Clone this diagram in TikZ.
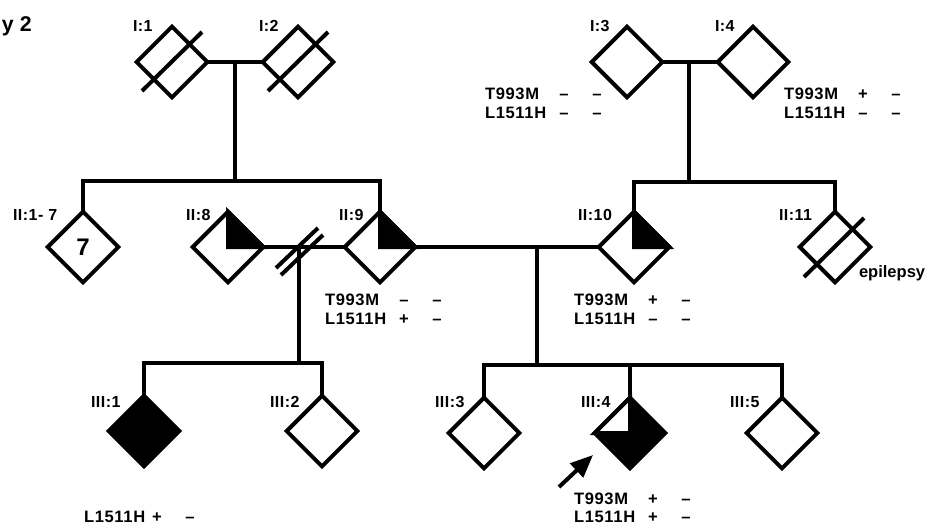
\documentclass[tikz,border=0pt]{standalone}
\usepackage{fontspec}
\setmainfont{Liberation Sans}
\newfontfamily\gtfont[LetterSpace=4]{Liberation Sans}
\newfontfamily\labfont[LetterSpace=3]{Liberation Sans}
\usetikzlibrary{arrows.meta,calc,shapes.geometric}
\newcommand\genoRow[6]{% prefix, x, y, text, s1, s2
  \node[gt] (#1l) at (#2,#3) {#4};
  \node[sg] (#1a) at (#2+81,#3) {#5};
  \node[sg] (#1b) at (#2+114,#3) {#6};
}
\begin{document}
\begin{tikzpicture}[x=0.75pt,y=-0.75pt,
  line width=3pt,
  ped/.style={shape=diamond, draw, inner sep=0pt, outer sep=0pt,
    minimum width=53pt, minimum height=53pt},
  lab/.style={anchor=base west, inner sep=0pt, font=\labfont\bfseries\fontsize{12}{13}\selectfont},
  gt/.style={anchor=base west, inner sep=0pt, font=\gtfont\bfseries\fontsize{12.4}{13}\selectfont},
  sg/.style={anchor=base, inner sep=0pt, font=\bfseries\fontsize{12.4}{13}\selectfont},
  strike/.style={line width=3pt},
  half/.style={fill=black, draw=black},
]
\useasboundingbox (0,0) rectangle (928,525);

\node[anchor=base west, inner sep=0pt, font=\bfseries\fontsize{16}{18}\selectfont] (title) at (0,31) {y 2};

% Generation I
\node[ped] (I1) at (172,62) {};
\node[ped] (I2) at (298,62) {};
\node[ped] (I3) at (627,62) {};
\node[ped] (I4) at (753,62) {};
\draw[strike] ($(I1.center)+(-30,29)$) -- ($(I1.center)+(30,-30)$);
\draw[strike] ($(I2.center)+(-30,29)$) -- ($(I2.center)+(30,-30)$);

\node[lab] (lI1) at (131,31) {I:1};
\node[lab] (lI2) at (257,31) {I:2};
\node[lab] (lI3) at (588,31) {I:3};
\node[lab] (lI4) at (713,31) {I:4};

\genoRow{gIIIa}{483}{99}{T993M}{–}{–}
\genoRow{gIIIb}{483}{118}{L1511H}{–}{–}
\genoRow{gIVa}{782}{99}{T993M}{+}{–}
\genoRow{gIVb}{782}{118}{L1511H}{–}{–}

% Generation II
\node[ped, font=\bfseries\fontsize{18}{20}\selectfont] (II17) at (83,247) {7};
\node[ped] (II8) at (228,247) {};
\node[ped] (II9) at (380,247) {};
\node[ped] (II10) at (634,247) {};
\node[ped] (II11) at (835,247) {};
\filldraw[half] (II8.north) -- (II8.center) -- (II8.east) -- cycle;
\filldraw[half] (II9.north) -- (II9.center) -- (II9.east) -- cycle;
\filldraw[half] (II10.north) -- (II10.center) -- (II10.east) -- cycle;
\draw[strike] ($(II11.center)+(-31,30)$) -- ($(II11.center)+(29,-29)$);

\node[lab] (lII17) at (11,220) {II:1- 7};
\node[lab] (lII8) at (184,220) {II:8};
\node[lab] (lII9) at (337,220) {II:9};
\node[lab] (lII10) at (576,220) {II:10};
\node[lab] (lII11) at (777,220) {II:11};
\node[anchor=base west, inner sep=0pt, font=\bfseries\fontsize{12.4}{13}\selectfont] (epi) at (857,277) {epilepsy};

\genoRow{gIXa}{323}{305}{T993M}{–}{–}
\genoRow{gIXb}{323}{324}{L1511H}{+}{–}
\genoRow{gXa}{572}{305}{T993M}{+}{–}
\genoRow{gXb}{572}{324}{L1511H}{–}{–}

% Generation III
\node[ped, fill=black] (III1) at (144,431) {};
\node[ped] (III2) at (322,431) {};
\node[ped] (III3) at (484,433) {};
\node[ped, fill=black] (III4) at (630,433) {};
\node[ped] (III5) at (782,433) {};
\filldraw[fill=white, draw=black] (III4.west) -- (III4.center) -- (III4.north) -- cycle;

\node[lab] (lIII1) at (89,407) {III:1};
\node[lab] (lIII2) at (268,407) {III:2};
\node[lab] (lIII3) at (433,407) {III:3};
\node[lab] (lIII4) at (579,407) {III:4};
\node[lab] (lIII5) at (728,407) {III:5};

\genoRow{gIVa4}{572}{504}{T993M}{+}{–}
\genoRow{gIVb4}{572}{522}{L1511H}{+}{–}
\node[gt] (gI1l) at (82,522) {L1511H};
\node[sg] (gI1a) at (157,522) {+};
\node[sg] (gI1b) at (190,522) {–};

% connectors
\coordinate (m1) at ($(I1.east)!0.5!(I2.west)$);
\coordinate (s1) at (234,181);
\draw (I1.east) -- (I2.west);
\draw (m1) -- (m1 |- s1);
\draw (II17.north) |- (s1) -| (II9.north);

\coordinate (m2) at (689,62);
\coordinate (s2) at (689,182);
\draw (I3.east) -- (I4.west);
\draw (m2) -- (s2);
\draw (II10.north) |- (s2) -| (II11.north);

\draw (II8.east) -- (II9.west);
\draw (II9.east) -- (II10.west);
% divorce
\draw (276,268) -- (318,228);
\draw (281,275) -- (323,235);

\coordinate (m3) at (299,247);
\coordinate (s3) at (299,363);
\draw (m3) -- (s3);
\draw (III1.north) |- (s3) -| (III2.north);

\coordinate (m4) at (537,247);
\coordinate (s4) at (537,365);
\draw (m4) -- (s4);
\draw (III3.north) |- (s4) -| (III5.north);
\draw (III4.north) -- (III4.north |- s4);

% proband arrow
\coordinate (arS) at (559,487);
\coordinate (arE) at (593,455);
\draw[-{Triangle[length=17pt,width=14pt]}, line width=3pt] (arS) -- (arE);
\end{tikzpicture}
\end{document}
